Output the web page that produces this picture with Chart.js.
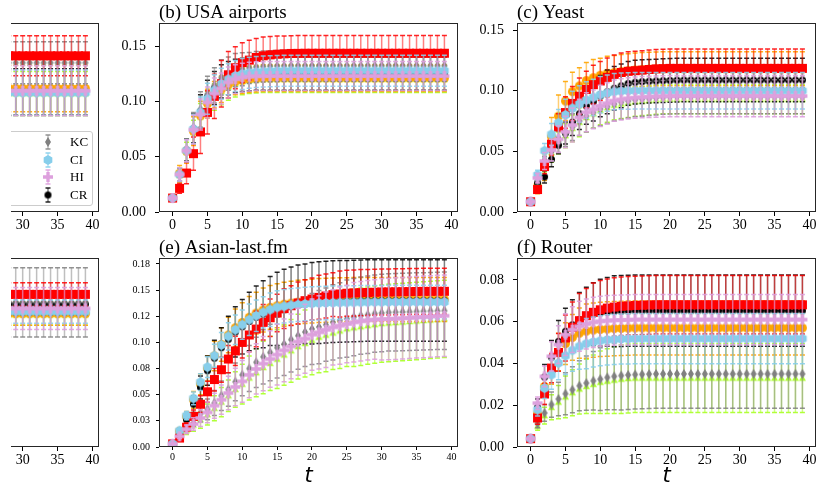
<!DOCTYPE html>
<html lang="en">
<head>
  <meta charset="UTF-8" />
  <title>Spreading curves with error bars</title>
  <script src="https://cdn.jsdelivr.net/npm/chart.js"></script>
  <style>
    html, body { margin: 0; padding: 0; background: #fff; }
    body { width: 821px; height: 489px; position: relative; overflow: hidden; }
    canvas.panel { position: absolute; }
    #cover { position: absolute; left: 0; top: 0; width: 11px; height: 489px; background: #fff; z-index: 5; }
    #legend {
      position: absolute; left: -30px; top: 131px; width: 121px; height: 73px;
      border: 1px solid #cccccc; border-radius: 3px; background: rgba(255,255,255,0.85);
      font-family: 'Liberation Serif', serif; font-size: 13px; color: #000;
    }
    #legend .row { position: absolute; left: 0; width: 121px; height: 18px; }
    #legend canvas { position: absolute; left: 70px; top: 0; }
    #legend span { position: absolute; left: 99px; top: 1px; line-height: 16px; }
  </style>
</head>
<body>
  <canvas class="panel" id="pa" width="365" height="260" style="left:-260px;top:-3px"></canvas>
  <canvas class="panel" id="pb" width="365" height="260" style="left:99px;top:-3px"></canvas>
  <canvas class="panel" id="pc" width="365" height="260" style="left:457px;top:-3px"></canvas>
  <canvas class="panel" id="pd" width="365" height="260" style="left:-260px;top:232px"></canvas>
  <canvas class="panel" id="pe" width="365" height="260" style="left:99px;top:232px"></canvas>
  <canvas class="panel" id="pf" width="365" height="260" style="left:457px;top:232px"></canvas>
  <div id="legend"></div>
  <div id="cover"></div>

  <script>
    // time steps
    const tFull = [0,1,2,3,4,5,6,7,8,9,10,11,12,13,14,15,16,17,18,19,20,21,22,23,24,25,26,27,28,29,30,31,32,33,34,35,36,37,38,39];
    const tTail = [28,29,30,31,32,33,34,35,36,37,38,39];

    // tick values / labels
    const xTickValues = [0,5,10,15,20,25,30,35,40];
    const xTickLabels = ['0','5','10','15','20','25','30','35','40'];
    const usaYTicks = [0, 0.05, 0.10, 0.15];
    const usaYLabels = ['0.00','0.05','0.10','0.15'];
    const yeastYTicks = [0, 0.05, 0.10, 0.15];
    const yeastYLabels = ['0.00','0.05','0.10','0.15'];
    const asianYTicks = [0, 0.025, 0.05, 0.075, 0.10, 0.125, 0.15, 0.175];
    const asianYLabels = ['0.00','0.03','0.05','0.08','0.10','0.12','0.15','0.18'];
    const routerYTicks = [0, 0.02, 0.04, 0.06, 0.08];
    const routerYLabels = ['0.00','0.02','0.04','0.06','0.08'];
    const legendLabels = ['KC','CI','HI','CR'];

    // (a) visible tail only
    const aRed = [0.1412,0.1412,0.1412,0.1412,0.1412,0.1412,0.1412,0.1412,0.1412,0.1412,0.1412,0.1412];
    const aRedErr = [0.018,0.018,0.018,0.018,0.018,0.018,0.018,0.018,0.018,0.018,0.018,0.018];
    const aKC = [0.1349,0.1349,0.1349,0.1349,0.1349,0.1349,0.1349,0.1349,0.1349,0.1349,0.1349,0.1349];
    const aKCErr = [0.019,0.019,0.019,0.019,0.019,0.019,0.019,0.019,0.019,0.019,0.019,0.019];
    const aCI = [0.1078,0.1078,0.1078,0.1078,0.1078,0.1078,0.1078,0.1078,0.1078,0.1078,0.1078,0.1078];
    const aCIErr = [0.0205,0.0205,0.0205,0.0205,0.0205,0.0205,0.0205,0.0205,0.0205,0.0205,0.0205,0.0205];
    const aHI = [0.1096,0.1096,0.1096,0.1096,0.1096,0.1096,0.1096,0.1096,0.1096,0.1096,0.1096,0.1096];
    const aHIErr = [0.0226,0.0226,0.0226,0.0226,0.0226,0.0226,0.0226,0.0226,0.0226,0.0226,0.0226,0.0226];
    const aCR = [0.1085,0.1085,0.1085,0.1085,0.1085,0.1085,0.1085,0.1085,0.1085,0.1085,0.1085,0.1085];
    const aCRErr = [0.021,0.021,0.021,0.021,0.021,0.021,0.021,0.021,0.021,0.021,0.021,0.021];
    const aOrange = [0.1117,0.1117,0.1117,0.1117,0.1117,0.1117,0.1117,0.1117,0.1117,0.1117,0.1117,0.1117];
    const aOrangeErr = [0.021,0.021,0.021,0.021,0.021,0.021,0.021,0.021,0.021,0.021,0.021,0.021];
    const aGreen = [0.107,0.107,0.107,0.107,0.107,0.107,0.107,0.107,0.107,0.107,0.107,0.107];
    const aGreenErr = [0.02,0.02,0.02,0.02,0.02,0.02,0.02,0.02,0.02,0.02,0.02,0.02];

    // (b) USA airports
    const usaRed = [0.0126,0.0214,0.0352,0.0527,0.0724,0.0900,0.1045,0.1160,0.1240,0.1304,
      0.1350,0.1373,0.1397,0.1412,0.1420,0.1426,0.1430,0.1433,0.1434,0.1435,
      0.1435,0.1435,0.1435,0.1435,0.1435,0.1435,0.1435,0.1435,0.1435,0.1435,
      0.1435,0.1435,0.1435,0.1435,0.1435,0.1435,0.1435,0.1435,0.1435,0.1435];
    const usaRedErr = [0,0.0045,0.0097,0.0150,0.0195,0.0195,0.0200,0.0210,0.0210,0.0190,
      0.0180,0.0180,0.0170,0.0170,0.0165,0.0165,0.0160,0.0160,0.0160,0.0160,
      0.0160,0.0160,0.0160,0.0160,0.0160,0.0160,0.0160,0.0160,0.0160,0.0160,
      0.0160,0.0160,0.0160,0.0160,0.0160,0.0160,0.0160,0.0160,0.0160,0.0160];
    const usaKC = [0.0126,0.0340,0.0560,0.0760,0.0927,0.1066,0.1144,0.1217,0.1250,0.1283,
      0.1290,0.1302,0.1310,0.1315,0.1318,0.1320,0.1321,0.1322,0.1322,0.1322,
      0.1322,0.1322,0.1322,0.1322,0.1322,0.1322,0.1322,0.1322,0.1322,0.1322,
      0.1322,0.1322,0.1322,0.1322,0.1322,0.1322,0.1322,0.1322,0.1322,0.1322];
    const usaKCErr = [0,0.0060,0.0100,0.0140,0.0160,0.0160,0.0160,0.0160,0.0150,0.0150,
      0.0150,0.0140,0.0140,0.0140,0.0140,0.0140,0.0140,0.0140,0.0140,0.0140,
      0.0140,0.0140,0.0140,0.0140,0.0140,0.0140,0.0140,0.0140,0.0140,0.0140,
      0.0140,0.0140,0.0140,0.0140,0.0140,0.0140,0.0140,0.0140,0.0140,0.0140];
    const usaCI = [0.0126,0.0340,0.0555,0.0750,0.0900,0.1024,0.1100,0.1160,0.1200,0.1229,
      0.1247,0.1259,0.1265,0.1270,0.1273,0.1275,0.1277,0.1277,0.1277,0.1277,
      0.1277,0.1277,0.1277,0.1277,0.1277,0.1277,0.1277,0.1277,0.1277,0.1277,
      0.1277,0.1277,0.1277,0.1277,0.1277,0.1277,0.1277,0.1277,0.1277,0.1277];
    const usaCIErr = [0,0.0060,0.0100,0.0130,0.0140,0.0140,0.0140,0.0140,0.0140,0.0140,
      0.0140,0.0140,0.0140,0.0140,0.0140,0.0140,0.0140,0.0140,0.0140,0.0140,
      0.0140,0.0140,0.0140,0.0140,0.0140,0.0140,0.0140,0.0140,0.0140,0.0140,
      0.0140,0.0140,0.0140,0.0140,0.0140,0.0140,0.0140,0.0140,0.0140,0.0140];
    const usaHI = [0.0126,0.0340,0.0554,0.0744,0.0882,0.0990,0.1070,0.1117,0.1171,0.1200,
      0.1215,0.1224,0.1227,0.1228,0.1229,0.1229,0.1229,0.1229,0.1229,0.1229,
      0.1229,0.1229,0.1229,0.1229,0.1229,0.1229,0.1229,0.1229,0.1229,0.1229,
      0.1229,0.1229,0.1229,0.1229,0.1229,0.1229,0.1229,0.1229,0.1229,0.1229];
    const usaHIErr = [0,0.0060,0.0100,0.0130,0.0140,0.0140,0.0140,0.0140,0.0140,0.0130,
      0.0130,0.0130,0.0130,0.0130,0.0130,0.0130,0.0130,0.0130,0.0130,0.0130,
      0.0130,0.0130,0.0130,0.0130,0.0130,0.0130,0.0130,0.0130,0.0130,0.0130,
      0.0130,0.0130,0.0130,0.0130,0.0130,0.0130,0.0130,0.0130,0.0130,0.0130];
    const usaCR = [0.0126,0.0340,0.0560,0.0755,0.0910,0.1040,0.1120,0.1180,0.1210,0.1230,
      0.1240,0.1245,0.1250,0.1250,0.1250,0.1250,0.1250,0.1250,0.1250,0.1250,
      0.1250,0.1250,0.1250,0.1250,0.1250,0.1250,0.1250,0.1250,0.1250,0.1250,
      0.1250,0.1250,0.1250,0.1250,0.1250,0.1250,0.1250,0.1250,0.1250,0.1250];
    const usaCRErr = [0,0.0060,0.0100,0.0130,0.0150,0.0150,0.0150,0.0150,0.0150,0.0150,
      0.0150,0.0150,0.0150,0.0150,0.0150,0.0150,0.0150,0.0150,0.0150,0.0150,
      0.0150,0.0150,0.0150,0.0150,0.0150,0.0150,0.0150,0.0150,0.0150,0.0150,
      0.0150,0.0150,0.0150,0.0150,0.0150,0.0150,0.0150,0.0150,0.0150,0.0150];
    const usaOrange = [0.0126,0.0350,0.0550,0.0730,0.0870,0.0980,0.1060,0.1110,0.1150,0.1180,
      0.1190,0.1200,0.1205,0.1210,0.1210,0.1210,0.1210,0.1210,0.1210,0.1210,
      0.1210,0.1210,0.1210,0.1210,0.1210,0.1210,0.1210,0.1210,0.1210,0.1210,
      0.1210,0.1210,0.1210,0.1210,0.1210,0.1210,0.1210,0.1210,0.1210,0.1210];
    const usaOrangeErr = [0,0.0070,0.0110,0.0130,0.0130,0.0130,0.0120,0.0120,0.0120,0.0120,
      0.0120,0.0120,0.0120,0.0120,0.0120,0.0120,0.0120,0.0120,0.0120,0.0120,
      0.0120,0.0120,0.0120,0.0120,0.0120,0.0120,0.0120,0.0120,0.0120,0.0120,
      0.0120,0.0120,0.0120,0.0120,0.0120,0.0120,0.0120,0.0120,0.0120,0.0120];
    const usaGreen = [0.0126,0.0330,0.0540,0.0720,0.0860,0.0970,0.1040,0.1090,0.1130,0.1160,
      0.1180,0.1190,0.1195,0.1200,0.1200,0.1200,0.1200,0.1200,0.1200,0.1200,
      0.1200,0.1200,0.1200,0.1200,0.1200,0.1200,0.1200,0.1200,0.1200,0.1200,
      0.1200,0.1200,0.1200,0.1200,0.1200,0.1200,0.1200,0.1200,0.1200,0.1200];
    const usaGreenErr = [0,0.0060,0.0090,0.0110,0.0120,0.0120,0.0120,0.0120,0.0120,0.0120,
      0.0120,0.0120,0.0120,0.0120,0.0120,0.0120,0.0120,0.0120,0.0120,0.0120,
      0.0120,0.0120,0.0120,0.0120,0.0120,0.0120,0.0120,0.0120,0.0120,0.0120,
      0.0120,0.0120,0.0120,0.0120,0.0120,0.0120,0.0120,0.0120,0.0120,0.0120];

    // (c) Yeast
    const yeastRed = [0.0085,0.0185,0.0375,0.0560,0.0700,0.0820,0.0895,0.0955,0.1010,0.1050,
      0.1080,0.1110,0.1135,0.1150,0.1160,0.1165,0.1170,0.1175,0.1180,0.1182,
      0.1184,0.1184,0.1184,0.1184,0.1184,0.1184,0.1184,0.1184,0.1184,0.1184,
      0.1184,0.1184,0.1184,0.1184,0.1184,0.1184,0.1184,0.1184,0.1184,0.1184];
    const yeastRedErr = [0,0.0030,0.0060,0.0090,0.0110,0.0130,0.0140,0.0150,0.0150,0.0160,
      0.0160,0.0160,0.0160,0.0160,0.0160,0.0160,0.0160,0.0160,0.0160,0.0160,
      0.0160,0.0160,0.0160,0.0160,0.0160,0.0160,0.0160,0.0160,0.0160,0.0160,
      0.0160,0.0160,0.0160,0.0160,0.0160,0.0160,0.0160,0.0160,0.0160,0.0160];
    const yeastOrange = [0.0085,0.0210,0.0370,0.0620,0.0790,0.0915,0.0992,0.1039,0.1083,0.1107,
      0.1127,0.1143,0.1150,0.1158,0.1165,0.1170,0.1174,0.1177,0.1179,0.1180,
      0.1180,0.1180,0.1180,0.1180,0.1180,0.1180,0.1180,0.1180,0.1180,0.1180,
      0.1180,0.1180,0.1180,0.1180,0.1180,0.1180,0.1180,0.1180,0.1180,0.1180];
    const yeastOrangeErr = [0,0.0060,0.0110,0.0160,0.0175,0.0160,0.0160,0.0150,0.0150,0.0150,
      0.0140,0.0140,0.0140,0.0140,0.0140,0.0140,0.0140,0.0140,0.0140,0.0140,
      0.0140,0.0140,0.0140,0.0140,0.0140,0.0140,0.0140,0.0140,0.0140,0.0140,
      0.0140,0.0140,0.0140,0.0140,0.0140,0.0140,0.0140,0.0140,0.0140,0.0140];
    const yeastCI = [0.0085,0.0305,0.0505,0.0640,0.0735,0.0800,0.0855,0.0890,0.0923,0.0945,
      0.0967,0.0980,0.0992,0.0996,0.0998,0.1000,0.1000,0.1000,0.1000,0.1000,
      0.1000,0.1000,0.1000,0.1000,0.1000,0.1000,0.1000,0.1000,0.1000,0.1000,
      0.1000,0.1000,0.1000,0.1000,0.1000,0.1000,0.1000,0.1000,0.1000,0.1000];
    const yeastCIErr = [0,0.0040,0.0060,0.0090,0.0110,0.0130,0.0140,0.0150,0.0150,0.0150,
      0.0150,0.0150,0.0150,0.0150,0.0150,0.0150,0.0150,0.0150,0.0150,0.0150,
      0.0150,0.0150,0.0150,0.0150,0.0150,0.0150,0.0150,0.0150,0.0150,0.0150,
      0.0150,0.0150,0.0150,0.0150,0.0150,0.0150,0.0150,0.0150,0.0150,0.0150];
    const yeastHI = [0.0085,0.0280,0.0420,0.0510,0.0600,0.0660,0.0717,0.0780,0.0822,0.0846,
      0.0874,0.0896,0.0918,0.0928,0.0937,0.0942,0.0946,0.0950,0.0952,0.0954,
      0.0955,0.0956,0.0956,0.0956,0.0956,0.0956,0.0956,0.0956,0.0956,0.0956,
      0.0956,0.0956,0.0956,0.0956,0.0956,0.0956,0.0956,0.0956,0.0956,0.0956];
    const yeastHIErr = [0,0.0040,0.0070,0.0090,0.0110,0.0130,0.0140,0.0150,0.0160,0.0160,
      0.0170,0.0170,0.0170,0.0170,0.0170,0.0170,0.0170,0.0170,0.0170,0.0170,
      0.0170,0.0170,0.0170,0.0170,0.0170,0.0170,0.0170,0.0170,0.0170,0.0170,
      0.0170,0.0170,0.0170,0.0170,0.0170,0.0170,0.0170,0.0170,0.0170,0.0170];
    const yeastCR = [0.0085,0.0240,0.0290,0.0434,0.0550,0.0650,0.0740,0.0810,0.0874,0.0910,
      0.0956,0.0990,0.1020,0.1040,0.1060,0.1070,0.1075,0.1078,0.1080,0.1083,
      0.1085,0.1087,0.1088,0.1088,0.1088,0.1088,0.1088,0.1088,0.1088,0.1088,
      0.1088,0.1088,0.1088,0.1088,0.1088,0.1088,0.1088,0.1088,0.1088,0.1088];
    const yeastCRErr = [0,0.0040,0.0050,0.0060,0.0070,0.0090,0.0110,0.0130,0.0150,0.0160,
      0.0170,0.0180,0.0180,0.0180,0.0180,0.0180,0.0180,0.0180,0.0180,0.0180,
      0.0180,0.0180,0.0180,0.0180,0.0180,0.0180,0.0180,0.0180,0.0180,0.0180,
      0.0180,0.0180,0.0180,0.0180,0.0180,0.0180,0.0180,0.0180,0.0180,0.0180];
    const yeastKC = [0.0085,0.0260,0.0400,0.0500,0.0580,0.0640,0.0700,0.0750,0.0790,0.0820,
      0.0850,0.0870,0.0890,0.0905,0.0915,0.0925,0.0930,0.0935,0.0940,0.0945,
      0.0948,0.0950,0.0950,0.0950,0.0950,0.0950,0.0950,0.0950,0.0950,0.0950,
      0.0950,0.0950,0.0950,0.0950,0.0950,0.0950,0.0950,0.0950,0.0950,0.0950];
    const yeastKCErr = [0,0.0040,0.0060,0.0080,0.0090,0.0100,0.0110,0.0120,0.0130,0.0130,
      0.0140,0.0140,0.0140,0.0140,0.0140,0.0140,0.0140,0.0140,0.0140,0.0140,
      0.0140,0.0140,0.0140,0.0140,0.0140,0.0140,0.0140,0.0140,0.0140,0.0140,
      0.0140,0.0140,0.0140,0.0140,0.0140,0.0140,0.0140,0.0140,0.0140,0.0140];
    const yeastGreen = [0.0085,0.0250,0.0390,0.0490,0.0570,0.0630,0.0690,0.0740,0.0780,0.0810,
      0.0840,0.0860,0.0880,0.0890,0.0900,0.0910,0.0915,0.0920,0.0925,0.0930,
      0.0930,0.0930,0.0930,0.0930,0.0930,0.0930,0.0930,0.0930,0.0930,0.0930,
      0.0930,0.0930,0.0930,0.0930,0.0930,0.0930,0.0930,0.0930,0.0930,0.0930];
    const yeastGreenErr = [0,0.0040,0.0060,0.0080,0.0090,0.0100,0.0110,0.0120,0.0120,0.0120,
      0.0120,0.0120,0.0120,0.0120,0.0120,0.0120,0.0120,0.0120,0.0120,0.0120,
      0.0120,0.0120,0.0120,0.0120,0.0120,0.0120,0.0120,0.0120,0.0120,0.0120,
      0.0120,0.0120,0.0120,0.0120,0.0120,0.0120,0.0120,0.0120,0.0120,0.0120];

    // (d) visible tail only
    const dRed = [0.1454,0.1454,0.1454,0.1454,0.1454,0.1454,0.1454,0.1454,0.1454,0.1454,0.1454,0.1454];
    const dRedErr = [0.011,0.011,0.011,0.011,0.011,0.011,0.011,0.011,0.011,0.011,0.011,0.011];
    const dKC = [0.1378,0.1378,0.1378,0.1378,0.1378,0.1378,0.1378,0.1378,0.1378,0.1378,0.1378,0.1378];
    const dKCErr = [0.033,0.033,0.033,0.033,0.033,0.033,0.033,0.033,0.033,0.033,0.033,0.033];
    const dHI = [0.132,0.132,0.132,0.132,0.132,0.132,0.132,0.132,0.132,0.132,0.132,0.132];
    const dHIErr = [0.02,0.02,0.02,0.02,0.02,0.02,0.02,0.02,0.02,0.02,0.02,0.02];
    const dCI = [0.1289,0.1289,0.1289,0.1289,0.1289,0.1289,0.1289,0.1289,0.1289,0.1289,0.1289,0.1289];
    const dCIErr = [0.011,0.011,0.011,0.011,0.011,0.011,0.011,0.011,0.011,0.011,0.011,0.011];
    const dCR = [0.136,0.136,0.136,0.136,0.136,0.136,0.136,0.136,0.136,0.136,0.136,0.136];
    const dCRErr = [0.01,0.01,0.01,0.01,0.01,0.01,0.01,0.01,0.01,0.01,0.01,0.01];
    const dOrange = [0.127,0.127,0.127,0.127,0.127,0.127,0.127,0.127,0.127,0.127,0.127,0.127];
    const dOrangeErr = [0.011,0.011,0.011,0.011,0.011,0.011,0.011,0.011,0.011,0.011,0.011,0.011];
    const dGreen = [0.126,0.126,0.126,0.126,0.126,0.126,0.126,0.126,0.126,0.126,0.126,0.126];
    const dGreenErr = [0.01,0.01,0.01,0.01,0.01,0.01,0.01,0.01,0.01,0.01,0.01,0.01];

    // (e) Asian-last.fm
    const asianRed = [0.0030,0.0086,0.0190,0.0293,0.0409,0.0528,0.0645,0.0739,0.0841,0.0919,
      0.1000,0.1071,0.1128,0.1192,0.1236,0.1281,0.1323,0.1351,0.1377,0.1399,
      0.1415,0.1431,0.1444,0.1457,0.1463,0.1470,0.1473,0.1476,0.1478,0.1480,
      0.1482,0.1483,0.1484,0.1485,0.1486,0.1487,0.1488,0.1488,0.1489,0.1489];
    const asianRedErr = [0,0.0020,0.0040,0.0060,0.0080,0.0100,0.0110,0.0120,0.0130,0.0140,
      0.0150,0.0160,0.0170,0.0170,0.0180,0.0180,0.0190,0.0190,0.0200,0.0200,
      0.0200,0.0210,0.0210,0.0210,0.0220,0.0220,0.0220,0.0220,0.0220,0.0220,
      0.0220,0.0220,0.0220,0.0220,0.0220,0.0220,0.0220,0.0220,0.0220,0.0220];
    const asianCI = [0.0030,0.0156,0.0300,0.0465,0.0620,0.0764,0.0873,0.0975,0.1058,0.1121,
      0.1169,0.1217,0.1255,0.1287,0.1313,0.1335,0.1345,0.1355,0.1361,0.1367,
      0.1372,0.1375,0.1377,0.1379,0.1380,0.1381,0.1382,0.1383,0.1384,0.1385,
      0.1385,0.1386,0.1386,0.1386,0.1386,0.1386,0.1386,0.1386,0.1386,0.1386];
    const asianCIErr = [0,0.0020,0.0040,0.0060,0.0080,0.0100,0.0110,0.0120,0.0130,0.0140,
      0.0140,0.0150,0.0150,0.0150,0.0160,0.0160,0.0160,0.0160,0.0160,0.0160,
      0.0160,0.0160,0.0160,0.0160,0.0160,0.0160,0.0160,0.0160,0.0160,0.0160,
      0.0160,0.0160,0.0160,0.0160,0.0160,0.0160,0.0160,0.0160,0.0160,0.0160];
    const asianCR = [0.0030,0.0140,0.0260,0.0410,0.0570,0.0730,0.0850,0.0950,0.1030,0.1100,
      0.1150,0.1200,0.1240,0.1270,0.1300,0.1320,0.1340,0.1350,0.1360,0.1370,
      0.1375,0.1380,0.1385,0.1390,0.1392,0.1394,0.1396,0.1398,0.1400,0.1400,
      0.1400,0.1400,0.1400,0.1400,0.1400,0.1400,0.1400,0.1400,0.1400,0.1400];
    const asianCRErr = [0,0.0020,0.0050,0.0080,0.0110,0.0140,0.0170,0.0190,0.0220,0.0240,
      0.0260,0.0280,0.0300,0.0320,0.0330,0.0350,0.0360,0.0370,0.0380,0.0380,
      0.0390,0.0390,0.0390,0.0390,0.0390,0.0390,0.0390,0.0390,0.0390,0.0390,
      0.0390,0.0390,0.0390,0.0390,0.0390,0.0390,0.0390,0.0390,0.0390,0.0390];
    const asianOrange = [0.0030,0.0150,0.0290,0.0450,0.0600,0.0750,0.0870,0.0980,0.1070,0.1140,
      0.1190,0.1240,0.1280,0.1310,0.1335,0.1350,0.1365,0.1375,0.1385,0.1390,
      0.1395,0.1400,0.1403,0.1405,0.1407,0.1408,0.1410,0.1410,0.1410,0.1410,
      0.1410,0.1410,0.1410,0.1410,0.1410,0.1410,0.1410,0.1410,0.1410,0.1410];
    const asianOrangeErr = [0,0.0030,0.0050,0.0080,0.0100,0.0120,0.0140,0.0160,0.0170,0.0180,
      0.0190,0.0200,0.0200,0.0210,0.0210,0.0210,0.0210,0.0210,0.0210,0.0210,
      0.0210,0.0210,0.0210,0.0210,0.0210,0.0210,0.0210,0.0210,0.0210,0.0210,
      0.0210,0.0210,0.0210,0.0210,0.0210,0.0210,0.0210,0.0210,0.0210,0.0210];
    const asianKC = [0.0030,0.0100,0.0190,0.0260,0.0320,0.0360,0.0420,0.0490,0.0550,0.0623,
      0.0690,0.0750,0.0810,0.0862,0.0903,0.0950,0.0984,0.1026,0.1064,0.1099,
      0.1128,0.1147,0.1169,0.1192,0.1211,0.1227,0.1242,0.1256,0.1265,0.1275,
      0.1281,0.1287,0.1289,0.1291,0.1293,0.1295,0.1297,0.1299,0.1301,0.1303];
    const asianKCErr = [0,0.0020,0.0040,0.0060,0.0080,0.0100,0.0120,0.0140,0.0160,0.0180,
      0.0200,0.0220,0.0240,0.0260,0.0270,0.0290,0.0300,0.0310,0.0320,0.0330,
      0.0340,0.0350,0.0350,0.0360,0.0360,0.0370,0.0370,0.0370,0.0370,0.0370,
      0.0370,0.0370,0.0370,0.0370,0.0370,0.0370,0.0370,0.0370,0.0370,0.0370];
    const asianHI = [0.0030,0.0102,0.0170,0.0220,0.0277,0.0331,0.0395,0.0452,0.0516,0.0574,
      0.0628,0.0690,0.0746,0.0797,0.0841,0.0883,0.0924,0.0962,0.1007,0.1036,
      0.1074,0.1096,0.1121,0.1144,0.1160,0.1176,0.1192,0.1202,0.1211,0.1218,
      0.1221,0.1224,0.1227,0.1231,0.1235,0.1240,0.1244,0.1248,0.1252,0.1255];
    const asianHIErr = [0,0.0020,0.0040,0.0060,0.0080,0.0100,0.0120,0.0140,0.0160,0.0180,
      0.0200,0.0220,0.0240,0.0260,0.0270,0.0290,0.0300,0.0310,0.0320,0.0330,
      0.0340,0.0350,0.0360,0.0360,0.0370,0.0370,0.0380,0.0380,0.0380,0.0380,
      0.0390,0.0390,0.0390,0.0390,0.0390,0.0390,0.0390,0.0390,0.0390,0.0390];
    const asianGreen = [0.0030,0.0095,0.0160,0.0210,0.0260,0.0310,0.0370,0.0430,0.0490,0.0550,
      0.0600,0.0660,0.0710,0.0760,0.0800,0.0840,0.0880,0.0920,0.0960,0.0990,
      0.1020,0.1050,0.1070,0.1090,0.1110,0.1130,0.1140,0.1150,0.1160,0.1170,
      0.1180,0.1185,0.1190,0.1195,0.1200,0.1205,0.1210,0.1215,0.1220,0.1225];
    const asianGreenErr = [0,0.0020,0.0040,0.0060,0.0080,0.0100,0.0120,0.0140,0.0150,0.0170,
      0.0190,0.0210,0.0230,0.0250,0.0260,0.0280,0.0290,0.0300,0.0310,0.0320,
      0.0330,0.0340,0.0350,0.0350,0.0360,0.0360,0.0370,0.0370,0.0370,0.0370,
      0.0370,0.0370,0.0370,0.0370,0.0370,0.0370,0.0370,0.0370,0.0370,0.0370];

    // (f) Router
    const routerRed = [0.0040,0.0139,0.0254,0.0378,0.0453,0.0522,0.0574,0.0605,0.0629,0.0645,
      0.0657,0.0665,0.0670,0.0674,0.0676,0.0678,0.0679,0.0680,0.0681,0.0681,
      0.0681,0.0681,0.0681,0.0681,0.0681,0.0681,0.0681,0.0681,0.0681,0.0681,
      0.0681,0.0681,0.0681,0.0681,0.0681,0.0681,0.0681,0.0681,0.0681,0.0681];
    const routerRedErr = [0,0.0030,0.0050,0.0070,0.0090,0.0110,0.0120,0.0130,0.0130,0.0140,
      0.0140,0.0140,0.0140,0.0140,0.0140,0.0140,0.0140,0.0140,0.0140,0.0140,
      0.0140,0.0140,0.0140,0.0140,0.0140,0.0140,0.0140,0.0140,0.0140,0.0140,
      0.0140,0.0140,0.0140,0.0140,0.0140,0.0140,0.0140,0.0140,0.0140,0.0140];
    const routerCR = [0.0040,0.0190,0.0335,0.0430,0.0506,0.0554,0.0585,0.0610,0.0625,0.0636,
      0.0643,0.0647,0.0650,0.0651,0.0652,0.0653,0.0653,0.0653,0.0653,0.0653,
      0.0653,0.0653,0.0653,0.0653,0.0653,0.0653,0.0653,0.0653,0.0653,0.0653,
      0.0653,0.0653,0.0653,0.0653,0.0653,0.0653,0.0653,0.0653,0.0653,0.0653];
    const routerCRErr = [0,0.0040,0.0060,0.0080,0.0100,0.0110,0.0120,0.0130,0.0140,0.0150,
      0.0160,0.0165,0.0170,0.0170,0.0170,0.0170,0.0170,0.0170,0.0170,0.0170,
      0.0170,0.0170,0.0170,0.0170,0.0170,0.0170,0.0170,0.0170,0.0170,0.0170,
      0.0170,0.0170,0.0170,0.0170,0.0170,0.0170,0.0170,0.0170,0.0170,0.0170];
    const routerHI = [0.0040,0.0210,0.0338,0.0434,0.0490,0.0538,0.0562,0.0578,0.0589,0.0597,
      0.0602,0.0605,0.0607,0.0608,0.0609,0.0610,0.0610,0.0610,0.0610,0.0610,
      0.0610,0.0610,0.0610,0.0610,0.0610,0.0610,0.0610,0.0610,0.0610,0.0610,
      0.0610,0.0610,0.0610,0.0610,0.0610,0.0610,0.0610,0.0610,0.0610,0.0610];
    const routerHIErr = [0,0.0030,0.0050,0.0070,0.0090,0.0100,0.0110,0.0120,0.0120,0.0120,
      0.0120,0.0120,0.0120,0.0120,0.0120,0.0120,0.0120,0.0120,0.0120,0.0120,
      0.0120,0.0120,0.0120,0.0120,0.0120,0.0120,0.0120,0.0120,0.0120,0.0120,
      0.0120,0.0120,0.0120,0.0120,0.0120,0.0120,0.0120,0.0120,0.0120,0.0120];
    const routerOrange = [0.0040,0.0160,0.0290,0.0370,0.0455,0.0495,0.0525,0.0545,0.0555,0.0560,
      0.0563,0.0565,0.0567,0.0568,0.0569,0.0570,0.0570,0.0570,0.0570,0.0570,
      0.0570,0.0570,0.0570,0.0570,0.0570,0.0570,0.0570,0.0570,0.0570,0.0570,
      0.0570,0.0570,0.0570,0.0570,0.0570,0.0570,0.0570,0.0570,0.0570,0.0570];
    const routerOrangeErr = [0,0.0030,0.0050,0.0070,0.0090,0.0100,0.0110,0.0120,0.0130,0.0130,
      0.0130,0.0130,0.0130,0.0130,0.0130,0.0130,0.0130,0.0130,0.0130,0.0130,
      0.0130,0.0130,0.0130,0.0130,0.0130,0.0130,0.0130,0.0130,0.0130,0.0130,
      0.0130,0.0130,0.0130,0.0130,0.0130,0.0130,0.0130,0.0130,0.0130,0.0130];
    const routerCI = [0.0040,0.0179,0.0282,0.0346,0.0402,0.0437,0.0463,0.0482,0.0495,0.0503,
      0.0509,0.0513,0.0515,0.0517,0.0518,0.0519,0.0519,0.0519,0.0519,0.0519,
      0.0519,0.0519,0.0519,0.0519,0.0519,0.0519,0.0519,0.0519,0.0519,0.0519,
      0.0519,0.0519,0.0519,0.0519,0.0519,0.0519,0.0519,0.0519,0.0519,0.0519];
    const routerCIErr = [0,0.0030,0.0050,0.0070,0.0080,0.0090,0.0100,0.0110,0.0120,0.0120,
      0.0120,0.0120,0.0120,0.0120,0.0120,0.0120,0.0120,0.0120,0.0120,0.0120,
      0.0120,0.0120,0.0120,0.0120,0.0120,0.0120,0.0120,0.0120,0.0120,0.0120,
      0.0120,0.0120,0.0120,0.0120,0.0120,0.0120,0.0120,0.0120,0.0120,0.0120];
    const routerKC = [0.0040,0.0112,0.0163,0.0203,0.0230,0.0255,0.0274,0.0293,0.0306,0.0317,
      0.0325,0.0333,0.0338,0.0342,0.0345,0.0347,0.0348,0.0349,0.0350,0.0350,
      0.0350,0.0350,0.0350,0.0350,0.0350,0.0350,0.0350,0.0350,0.0350,0.0350,
      0.0350,0.0350,0.0350,0.0350,0.0350,0.0350,0.0350,0.0350,0.0350,0.0350];
    const routerKCErr = [0,0.0020,0.0040,0.0060,0.0080,0.0100,0.0110,0.0120,0.0130,0.0140,
      0.0150,0.0155,0.0160,0.0165,0.0165,0.0165,0.0165,0.0165,0.0165,0.0165,
      0.0165,0.0165,0.0165,0.0165,0.0165,0.0165,0.0165,0.0165,0.0165,0.0165,
      0.0165,0.0165,0.0165,0.0165,0.0165,0.0165,0.0165,0.0165,0.0165,0.0165];
    const routerGreen = [0.0040,0.0100,0.0150,0.0190,0.0215,0.0240,0.0260,0.0278,0.0290,0.0300,
      0.0310,0.0315,0.0320,0.0325,0.0328,0.0330,0.0330,0.0330,0.0330,0.0330,
      0.0330,0.0330,0.0330,0.0330,0.0330,0.0330,0.0330,0.0330,0.0330,0.0330,
      0.0330,0.0330,0.0330,0.0330,0.0330,0.0330,0.0330,0.0330,0.0330,0.0330];
    const routerGreenErr = [0,0.0020,0.0040,0.0060,0.0080,0.0100,0.0110,0.0120,0.0130,0.0140,
      0.0150,0.0155,0.0160,0.0165,0.0165,0.0165,0.0165,0.0165,0.0165,0.0165,
      0.0165,0.0165,0.0165,0.0165,0.0165,0.0165,0.0165,0.0165,0.0165,0.0165,
      0.0165,0.0165,0.0165,0.0165,0.0165,0.0165,0.0165,0.0165,0.0165,0.0165];

    // ---- styling ----
    Chart.defaults.font.family = "'Liberation Serif', 'Times New Roman', serif";
    Chart.defaults.color = '#000';

    const look = {
      HI:     { fill: '#dda0dd', bar: 'rgba(221,160,221,0.65)', cap: 'rgba(221,160,221,0.9)', shape: 'plus', size: 10 },
      CI:     { fill: '#87ceeb', bar: 'rgba(135,206,235,0.6)',  cap: 'rgba(135,206,235,0.9)', shape: 'hex', size: 10 },
      red:    { fill: '#ff0000', bar: 'rgba(255,0,0,0.5)',      cap: 'rgba(255,0,0,0.85)',    shape: 'rect', size: 9 },
      KC:     { fill: '#808080', bar: 'rgba(128,128,128,0.5)',  cap: 'rgba(128,128,128,0.85)', shape: 'thin', size: 10 },
      CR:     { fill: '#000000', bar: 'rgba(0,0,0,0.5)',        cap: 'rgba(0,0,0,0.85)',      shape: 'circle', size: 7 },
      orange: { fill: '#ffa500', bar: 'rgba(255,165,0,0.55)',   cap: 'rgba(255,165,0,0.9)',   shape: 'circle', size: 9 },
      green:  { fill: '#adff2f', bar: 'rgba(173,255,47,0.6)',   cap: 'rgba(173,255,47,0.95)', shape: 'triangle', size: 7 }
    };

    function makeMarker(shape, size, fill) {
      const c = document.createElement('canvas');
      c.width = size + 2; c.height = size + 2;
      const g = c.getContext('2d');
      const m = c.width / 2, r = size / 2;
      g.fillStyle = fill;
      g.beginPath();
      if (shape === 'hex') {
        for (let k = 0; k < 6; k++) {
          const a = Math.PI / 2 + k * Math.PI / 3;
          g.lineTo(m + r * Math.cos(a), m - r * Math.sin(a));
        }
      } else if (shape === 'plus') {
        const u = size / 3, o = m - r;
        const pts = [[1,0],[2,0],[2,1],[3,1],[3,2],[2,2],[2,3],[1,3],[1,2],[0,2],[0,1],[1,1]];
        pts.forEach(([px, py]) => g.lineTo(o + px * u, o + py * u));
      } else if (shape === 'thin') {
        const w = r * 0.6;
        g.moveTo(m, m - r); g.lineTo(m + w, m); g.lineTo(m, m + r); g.lineTo(m - w, m);
      } else if (shape === 'rect') {
        g.rect(m - r, m - r, size, size);
      } else if (shape === 'triangle') {
        g.moveTo(m, m - r); g.lineTo(m + r, m + r * 0.8); g.lineTo(m - r, m + r * 0.8);
      } else {
        g.arc(m, m, r, 0, Math.PI * 2);
      }
      g.closePath();
      g.fill();
      return c;
    }

    const markerImg = {};
    Object.keys(look).forEach(k => { markerImg[k] = makeMarker(look[k].shape, look[k].size, look[k].fill); });

    // error bars are drawn just before each dataset's markers, so stacking follows dataset order
    const errorBarPlugin = {
      id: 'errorBars',
      beforeDatasetDraw(chart, args) {
        const ds = chart.data.datasets[args.index];
        if (!ds.err) return;
        const ctx = chart.ctx, a = chart.chartArea;
        const xs = chart.scales.x, ys = chart.scales.y;
        ctx.save();
        ctx.beginPath();
        ctx.rect(a.left, a.top, a.right - a.left, a.bottom - a.top);
        ctx.clip();
        ctx.lineWidth = 1.5;
        ds.data.forEach((p, i) => {
          const e = ds.err[i];
          if (!e) return;
          const px = xs.getPixelForValue(p.x);
          const top = ys.getPixelForValue(p.y + e);
          const bot = ys.getPixelForValue(p.y - e);
          ctx.strokeStyle = ds.barColor;
          ctx.beginPath(); ctx.moveTo(px, top); ctx.lineTo(px, bot); ctx.stroke();
          ctx.strokeStyle = ds.capColor;
          ctx.beginPath();
          ctx.moveTo(px - 2.5, top); ctx.lineTo(px + 2.5, top);
          ctx.moveTo(px - 2.5, bot); ctx.lineTo(px + 2.5, bot);
          ctx.stroke();
        });
        ctx.restore();
      }
    };

    const framePlugin = {
      id: 'frame',
      afterDatasetsDraw(chart) {
        const { ctx, chartArea: a } = chart;
        ctx.save();
        ctx.strokeStyle = '#262626';
        ctx.lineWidth = 1;
        ctx.strokeRect(Math.round(a.left) + 0.5, Math.round(a.top) + 0.5,
          Math.round(a.right - a.left) - 1, Math.round(a.bottom - a.top) - 1);
        ctx.restore();
      }
    };

    const order = ['HI', 'CI', 'red', 'KC', 'CR', 'orange', 'green'];

    const panels = [
      { id: 'pa', title: '', t: tTail, yMax: 0.1708, yTicks: usaYTicks, yLabels: usaYLabels, small: false, tLabel: false,
        data: { HI: [aHI, aHIErr], CI: [aCI, aCIErr], red: [aRed, aRedErr], KC: [aKC, aKCErr], CR: [aCR, aCRErr], orange: [aOrange, aOrangeErr], green: [aGreen, aGreenErr] } },
      { id: 'pb', title: '(b) USA airports', t: tFull, yMax: 0.1708, yTicks: usaYTicks, yLabels: usaYLabels, small: false, tLabel: false,
        data: { HI: [usaHI, usaHIErr], CI: [usaCI, usaCIErr], red: [usaRed, usaRedErr], KC: [usaKC, usaKCErr], CR: [usaCR, usaCRErr], orange: [usaOrange, usaOrangeErr], green: [usaGreen, usaGreenErr] } },
      { id: 'pc', title: '(c) Yeast', t: tFull, yMax: 0.1558, yTicks: yeastYTicks, yLabels: yeastYLabels, small: false, tLabel: false,
        data: { HI: [yeastHI, yeastHIErr], CI: [yeastCI, yeastCIErr], red: [yeastRed, yeastRedErr], KC: [yeastKC, yeastKCErr], CR: [yeastCR, yeastCRErr], orange: [yeastOrange, yeastOrangeErr], green: [yeastGreen, yeastGreenErr] } },
      { id: 'pd', title: '', t: tTail, yMax: 0.18, yTicks: asianYTicks, yLabels: asianYLabels, small: false, tLabel: false,
        data: { HI: [dHI, dHIErr], CI: [dCI, dCIErr], red: [dRed, dRedErr], KC: [dKC, dKCErr], CR: [dCR, dCRErr], orange: [dOrange, dOrangeErr], green: [dGreen, dGreenErr] } },
      { id: 'pe', title: '(e) Asian-last.fm', t: tFull, yMax: 0.1807, yTicks: asianYTicks, yLabels: asianYLabels, small: true, tLabel: true,
        data: { HI: [asianHI, asianHIErr], CI: [asianCI, asianCIErr], red: [asianRed, asianRedErr], KC: [asianKC, asianKCErr], CR: [asianCR, asianCRErr], orange: [asianOrange, asianOrangeErr], green: [asianGreen, asianGreenErr] } },
      { id: 'pf', title: '(f) Router', t: tFull, yMax: 0.0905, yTicks: routerYTicks, yLabels: routerYLabels, small: false, tLabel: true,
        data: { HI: [routerHI, routerHIErr], CI: [routerCI, routerCIErr], red: [routerRed, routerRedErr], KC: [routerKC, routerKCErr], CR: [routerCR, routerCRErr], orange: [routerOrange, routerOrangeErr], green: [routerGreen, routerGreenErr] } }
    ];

    panels.forEach(p => {
      const datasets = order.map(key => {
        const [ys, es] = p.data[key];
        const s = look[key];
        return {
          label: key,
          data: ys.map((v, i) => ({ x: p.t[i], y: v })),
          err: es,
          barColor: s.bar,
          capColor: s.cap,
          pointStyle: markerImg[key],
          pointRadius: 5,
          showLine: false
        };
      });

      new Chart(document.getElementById(p.id), {
        type: 'scatter',
        data: { datasets },
        options: {
          responsive: false,
          animation: false,
          events: [],
          devicePixelRatio: 1,
          layout: { padding: { left: 0, right: 6, top: p.title ? 0 : 26, bottom: 0 } },
          plugins: {
            legend: { display: false },
            tooltip: { enabled: false },
            title: {
              display: !!p.title,
              text: p.title,
              align: 'start',
              fullSize: false,
              color: '#000',
              font: { size: 19, lineHeight: 1, weight: 'normal' },
              padding: { top: 7, bottom: 0 }
            }
          },
          scales: {
            x: {
              type: 'linear',
              min: -1.95,
              max: 40.95,
              afterFit: s => { s.height = 45; },
              afterBuildTicks: s => { s.ticks = xTickValues.map(v => ({ value: v })); },
              ticks: {
                callback: (v, i) => xTickLabels[i],
                font: { size: p.small ? 10 : 14 },
                padding: 1,
                maxRotation: 0,
                autoSkip: false
              },
              grid: { drawOnChartArea: false, tickLength: p.small ? 3 : 4, tickColor: '#000', tickWidth: 1 },
              border: { display: false },
              title: {
                display: p.tLabel,
                text: 't',
                color: '#000',
                font: { family: "'DejaVu Sans', sans-serif", style: 'italic', size: 21 },
                padding: { top: 0, bottom: 3 }
              }
            },
            y: {
              type: 'linear',
              min: 0,
              max: p.yMax,
              afterFit: s => { s.width = 60; },
              afterBuildTicks: s => { s.ticks = p.yTicks.map(v => ({ value: v })); },
              ticks: {
                callback: (v, i) => p.yLabels[i],
                font: { size: p.small ? 10 : 14 },
                padding: p.small ? 6 : 9,
                autoSkip: false
              },
              grid: { drawOnChartArea: false, tickLength: p.small ? 3 : 4, tickColor: '#000', tickWidth: 1 },
              border: { display: false }
            }
          }
        },
        plugins: [errorBarPlugin, framePlugin]
      });
    });

    // legend of panel (a)
    const legend = document.getElementById('legend');
    const legendTops = [1, 18.5, 36, 53.5];
    legendLabels.forEach((name, i) => {
      const row = document.createElement('div');
      row.className = 'row';
      row.style.top = legendTops[i] + 'px';
      const c = document.createElement('canvas');
      c.width = 14; c.height = 18;
      const g = c.getContext('2d');
      const s = look[name];
      g.strokeStyle = s.bar; g.lineWidth = 1.5;
      g.beginPath(); g.moveTo(7, 2); g.lineTo(7, 16); g.stroke();
      g.strokeStyle = s.cap;
      g.beginPath(); g.moveTo(4.5, 2); g.lineTo(9.5, 2); g.moveTo(4.5, 16); g.lineTo(9.5, 16); g.stroke();
      const img = markerImg[name];
      g.drawImage(img, 7 - img.width / 2, 9 - img.height / 2);
      const label = document.createElement('span');
      label.textContent = name;
      row.appendChild(c);
      row.appendChild(label);
      legend.appendChild(row);
    });
  </script>
</body>
</html>
